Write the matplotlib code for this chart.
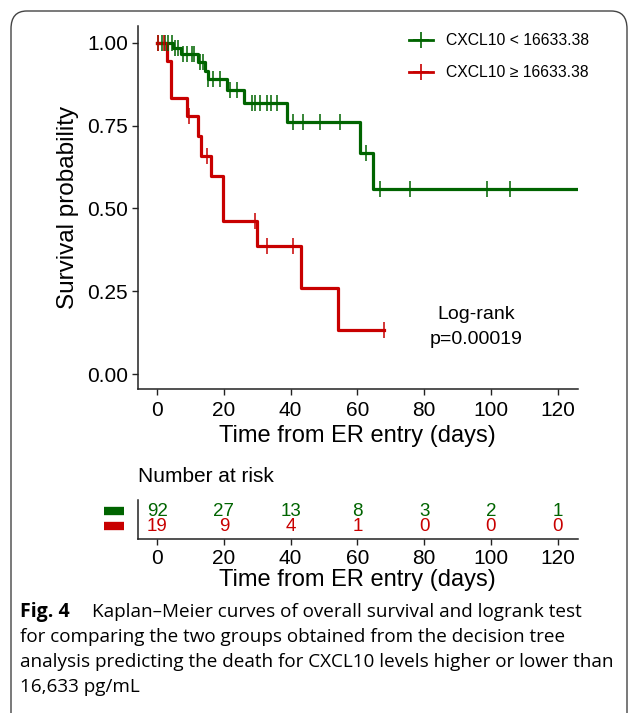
import matplotlib
matplotlib.use("Agg")
import matplotlib.pyplot as plt
from matplotlib.lines import Line2D
from matplotlib.patches import FancyBboxPatch
import numpy as np

plt.rcParams['font.family'] = ['Liberation Sans', 'DejaVu Sans']

GREEN = '#006400'
RED = '#C80000'

# Kaplan-Meier steps
g_time = [0, 4.9, 7.1, 12.4, 14.4, 15.2, 21.0, 26.1, 38.8, 60.7, 64.7, 126]
g_surv = [1.0, 0.984, 0.966, 0.942, 0.916, 0.890, 0.858, 0.820, 0.760, 0.667, 0.558, 0.558]
g_cens = [0.4, 1.4, 2.4, 3.4, 4.4, 5.4, 6.4, 7.7, 8.9, 10.4, 11.2, 13.0, 13.8,
          15.4, 16.9, 18.9, 21.8, 23.8, 28.3, 29.3, 30.8, 32.8, 34.1, 35.8,
          40.8, 43.8, 48.8, 54.8, 62.7, 66.7, 75.7, 98.8, 105.6]

r_time = [0, 3.1, 4.1, 9.1, 12.4, 13.2, 16.1, 19.8, 29.8, 43.0, 54.1, 67.9]
r_surv = [1.0, 0.946, 0.835, 0.779, 0.719, 0.659, 0.598, 0.463, 0.388, 0.261, 0.133, 0.133]
r_cens = [0.3, 2.0, 9.6, 14.9, 29.3, 32.8, 40.8, 67.9]

risk_times = [0, 20, 40, 60, 80, 100, 120]
g_risk = [92, 27, 13, 8, 3, 2, 1]
r_risk = [19, 9, 4, 1, 0, 0, 0]

labels = ['CXCL10 < 16633.38', 'CXCL10 \u2265 16633.38']


def surv_at(times, surv, t):
    idx = np.searchsorted(times, t, side='right') - 1
    return np.array(surv)[idx]


W, H = 629, 713
fig = plt.figure(figsize=(W / 100, H / 100), dpi=100)

# frame around the figure
frame = FancyBboxPatch((11 / W, -0.05), (616 / W), 1.05 - 11 / H,
                       boxstyle="round,pad=0,rounding_size=0.025",
                       transform=fig.transFigure, fill=False,
                       edgecolor='#444444', linewidth=1.0)
fig.patches.append(frame)

ax = fig.add_axes([137.7 / W, 1 - 389 / H, 440 / W, 363 / H])
ax.step(g_time, g_surv, where='post', color=GREEN, lw=2.3)
ax.step(r_time, r_surv, where='post', color=RED, lw=2.3)
ax.plot(g_cens, surv_at(g_time, g_surv, g_cens), ls='none', marker='|',
        ms=11, mew=1.1, color=GREEN)
ax.plot(r_cens, surv_at(r_time, r_surv, r_cens), ls='none', marker='|',
        ms=11, mew=1.1, color=RED)

ax.set_xlim(-5.8, 126)
ax.set_ylim(-0.045, 1.051)
ax.set_xticks(risk_times)
ax.set_yticks([0, 0.25, 0.5, 0.75, 1.0])
ax.set_yticklabels(['0.00', '0.25', '0.50', '0.75', '1.00'])
ax.tick_params(labelsize=15, length=4, width=1, color='#222222', pad=3)
ax.tick_params(axis='x', pad=5)
for s in ['top', 'right']:
    ax.spines[s].set_visible(False)
for s in ['left', 'bottom']:
    ax.spines[s].set_linewidth(1.1)
    ax.spines[s].set_color('#222222')
ax.set_xlabel('Time from ER entry (days)', fontsize=17, labelpad=3)
ax.set_ylabel('Survival probability', fontsize=17.5, labelpad=6)

ax.text(95.5, 0.142, 'Log-rank\np=0.00019', ha='center', va='center',
        fontsize=14, linespacing=1.65)

handles = [Line2D([], [], color=GREEN, lw=2, marker='+', ms=12, mew=1.2),
           Line2D([], [], color=RED, lw=2, marker='+', ms=12, mew=1.2)]
fig.legend(handles, labels, loc='upper left',
           bbox_to_anchor=(409 / W, 1 - 33 / H), frameon=False,
           fontsize=11.3, handlelength=1.5, handletextpad=0.85,
           labelspacing=1.1, borderpad=0, borderaxespad=0)

# number at risk table
rax = fig.add_axes([137.7 / W, 1 - 539 / H, 440 / W, 39 / H])
rax.set_xlim(-5.8, 126)
rax.set_ylim(0, 1)
for t, n in zip(risk_times, g_risk):
    rax.text(t, 0.71, str(n), ha='center', va='center', color=GREEN, fontsize=13.5)
for t, n in zip(risk_times, r_risk):
    rax.text(t, 0.32, str(n), ha='center', va='center', color=RED, fontsize=13.5)
rax.set_xticks(risk_times)
rax.set_yticks([])
rax.tick_params(labelsize=15, length=4, width=1, color='#222222', pad=3)
for s in ['top', 'right']:
    rax.spines[s].set_visible(False)
for s in ['left', 'bottom']:
    rax.spines[s].set_linewidth(1.1)
    rax.spines[s].set_color('#222222')
rax.set_xlabel('Time from ER entry (days)', fontsize=17, labelpad=1)
rax.set_title('Number at risk', loc='left', fontsize=15, x=0.0, pad=13)

# coloured strata keys left of the table
rax.plot([-16, -10], [0.72, 0.72], color=GREEN, lw=6, clip_on=False,
         solid_capstyle='butt')
rax.plot([-16, -10], [0.33, 0.33], color=RED, lw=6, clip_on=False,
         solid_capstyle='butt')

# caption
cap_font = ['Open Sans', 'DejaVu Sans']
fig.text(20 / W, 1 - 612 / H, 'Fig. 4', fontsize=14, fontweight='bold',
         family=cap_font, va='center')
fig.text(92 / W, 1 - 612 / H, 'Kaplan\u2013Meier curves of overall survival and logrank test',
         fontsize=13.6, family=cap_font, va='center')
rest = ['for comparing the two groups obtained from the decision tree',
        'analysis predicting the death for CXCL10 levels higher or lower than',
        '16,633 pg/mL']
for i, line in enumerate(rest):
    fig.text(20 / W, 1 - (637 + 25 * i) / H, line, fontsize=13.6,
             family=cap_font, va='center')

fig.savefig('out.png', dpi=100)
